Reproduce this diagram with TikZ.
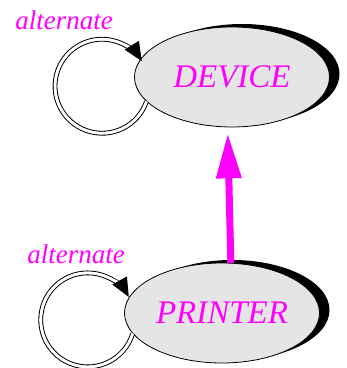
\documentclass[tikz,border=0pt]{standalone}
\usepackage{fontspec}
\setmainfont{Liberation Serif}
\usepackage{xcolor}
\usepackage{tikz}
\usetikzlibrary{arrows.meta,shapes.geometric,shadows}
\definecolor{stmagenta}{RGB}{255,0,255}
\definecolor{stgray}{RGB}{229,229,229}

\begin{document}
\begin{tikzpicture}[x=1pt,y=1pt,
    state/.style={ellipse, draw=black, line width=0.8pt, fill=stgray,
        minimum width=195pt, minimum height=100pt, inner sep=0pt,
        text=stmagenta, font=\fontsize{33}{36}\selectfont\itshape,
        drop shadow={shadow xshift=10pt, shadow yshift=3pt, fill=black, opacity=1}},
    loopline/.style={double=white, draw=black, line width=1.1pt, double distance=2.6pt,
        shorten >=12pt},
    looptip/.style={draw=white, line width=2.6pt,
        -{Triangle[length=19pt,width=16pt,color=black]}},
    looplabel/.style={text=stmagenta, font=\fontsize{27}{30}\selectfont\itshape}]
    \useasboundingbox (0,0) rectangle (347,368);
    % States
    \node[state] (dev) at (232,291) {DEVICE};
    \node[state] (prn) at (222,55) {PRINTER};
    % Self loops
    \draw[loopline] (dev.196) arc[start angle=-19, end angle=-328, radius=47pt];
    \draw[looptip] (dev.196) arc[start angle=-19, end angle=-328, radius=47pt];
    \node[looplabel] at (64,348) {alternate};
    \draw[loopline] (prn.193) arc[start angle=-17, end angle=-331, radius=47pt];
    \draw[looptip] (prn.193) arc[start angle=-17, end angle=-331, radius=47pt];
    \node[looplabel] at (76,114) {alternate};
    % Transition
    \draw[stmagenta, line width=7pt, shorten >=6pt,
        -{Triangle[length=45pt,width=24pt]}] (prn.80) -- (dev.265);
\end{tikzpicture}
\end{document}
